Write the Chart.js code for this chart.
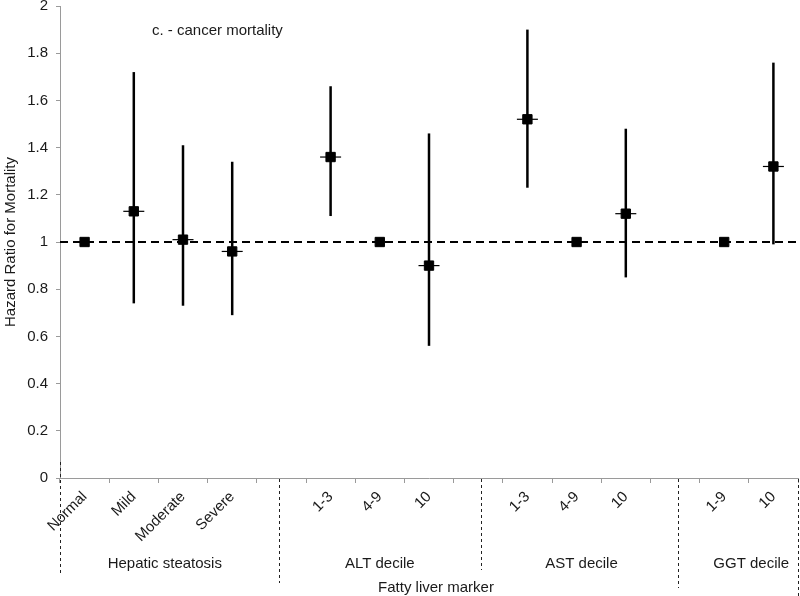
<!DOCTYPE html>
<html>
<head>
<meta charset="utf-8">
<script src="https://cdn.jsdelivr.net/npm/chart.js@4/dist/chart.umd.min.js"></script>
<style>
  html, body { margin: 0; padding: 0; background: #fff; }
  canvas { display: block; }
</style>
</head>
<body>
<canvas id="c" width="800" height="596"></canvas>
<script>
// ---- data ----
const categories   = ['Normal','Mild','Moderate','Severe','','1-3','4-9','10','','1-3','4-9','10','','1-9','10'];
const hazardRatio  = [1.00, 1.13, 1.01, 0.96, null, 1.36, 1.00, 0.90, null, 1.52, 1.00, 1.12, null, 1.00, 1.32];
const ciLower      = [null, 0.74, 0.73, 0.69, null, 1.11, null, 0.56, null, 1.23, null, 0.85, null, null, 0.99];
const ciUpper      = [null, 1.72, 1.41, 1.34, null, 1.66, null, 1.46, null, 1.90, null, 1.48, null, null, 1.76];
const groupNames   = ['Hepatic steatosis', 'ALT decile', 'AST decile', 'GGT decile'];
const referenceHR  = 1;
const yMin = 0, yMax = 2, yStep = 0.2;
const panelLabel   = 'c. - cancer mortality';
const xTitle       = 'Fatty liver marker';
const yTitle       = 'Hazard Ratio for Mortality';

// ---- layout (positions in category units / pixel offsets) ----
const groupLabelPos = [1.63, 6.0, 10.1, 13.55];
const dividerPos    = [-0.5, 3.95, 8.06, 12.06, 14.5];
const dividerTop    = [-16, 1, 1, 1, 1];
const dividerBottom = [97, 105, 92, 110, 118];

const FONT = '"Liberation Sans", Arial, Helvetica, sans-serif';
const TEXT = '#1a1a1a';
const AXIS = '#9a9a9a';

const overlay = {
  id: 'overlay',
  beforeDatasetsDraw(chart) {
    const ctx = chart.ctx, x = chart.scales.x, y = chart.scales.y, a = chart.chartArea;
    ctx.save();
    // reference line
    const yr = y.getPixelForValue(referenceHR);
    ctx.strokeStyle = '#000';
    ctx.lineWidth = 2;
    ctx.setLineDash([8, 5]);
    ctx.beginPath();
    ctx.moveTo(a.left, yr);
    ctx.lineTo(chart.width, yr);
    ctx.stroke();
    ctx.setLineDash([]);
    // error bars
    for (let i = 0; i < categories.length; i++) {
      if (ciLower[i] == null || ciUpper[i] == null) continue;
      const px = x.getPixelForValue(i);
      ctx.lineWidth = 2.5;
      ctx.beginPath();
      ctx.moveTo(px, y.getPixelForValue(ciLower[i]));
      ctx.lineTo(px, y.getPixelForValue(ciUpper[i]));
      ctx.stroke();
      const py = y.getPixelForValue(hazardRatio[i]);
      ctx.lineWidth = 1.2;
      ctx.beginPath();
      ctx.moveTo(px - 10.5, py);
      ctx.lineTo(px + 10.5, py);
      ctx.stroke();
    }
    ctx.restore();
  },
  afterDraw(chart) {
    const ctx = chart.ctx, x = chart.scales.x, a = chart.chartArea;
    ctx.save();
    // group dividers
    ctx.strokeStyle = '#222';
    ctx.lineWidth = 1;
    ctx.setLineDash([3, 3]);
    dividerPos.forEach((p, k) => {
      let px = Math.round(x.getPixelForValue(p)) + 0.5;
      if (px > chart.width - 1) px = chart.width - 1.5;
      ctx.beginPath();
      ctx.moveTo(px, a.bottom + dividerTop[k]);
      ctx.lineTo(px, a.bottom + dividerBottom[k]);
      ctx.stroke();
    });
    ctx.setLineDash([]);
    // group labels
    ctx.fillStyle = TEXT;
    ctx.font = '15px ' + FONT;
    ctx.textAlign = 'center';
    ctx.textBaseline = 'middle';
    groupNames.forEach((g, k) => {
      ctx.fillText(g, x.getPixelForValue(groupLabelPos[k]), a.bottom + 86);
    });
    // axis title
    ctx.fillText(xTitle, 436, a.bottom + 110);
    // panel label
    ctx.textAlign = 'left';
    ctx.fillText(panelLabel, 152, 31);
    ctx.restore();
  }
};

new Chart(document.getElementById('c'), {
  type: 'line',
  data: {
    labels: categories,
    datasets: [{
      data: hazardRatio,
      showLine: false,
      pointStyle: 'rect',
      pointRadius: 6.6,
      pointHoverRadius: 6.6,
      pointBackgroundColor: '#000',
      pointBorderColor: '#000',
      pointBorderWidth: 1
    }]
  },
  options: {
    responsive: false,
    animation: false,
    devicePixelRatio: 1,
    layout: { autoPadding: false, padding: { left: 0, right: 2, top: 0, bottom: 0 } },
    plugins: { legend: { display: false }, tooltip: { enabled: false } },
    scales: {
      x: {
        type: 'category',
        offset: true,
        grid: { offset: true, drawOnChartArea: false, drawTicks: true, tickLength: 5, color: AXIS },
        border: { color: AXIS, width: 1 },
        ticks: {
          autoSkip: false, minRotation: 45, maxRotation: 45, padding: 5,
          color: TEXT, font: { family: FONT, size: 15 }
        },
        afterFit(s) { s.height = 118; s.paddingLeft = 0; s.paddingRight = 0; }
      },
      y: {
        min: yMin, max: yMax,
        grid: { drawOnChartArea: false, drawTicks: true, tickLength: 4, color: AXIS },
        border: { color: AXIS, width: 1 },
        ticks: {
          stepSize: yStep, padding: 8, color: TEXT,
          font: { family: FONT, size: 15 },
          callback: v => String(Math.round(v * 10) / 10)
        },
        title: { display: true, text: yTitle, color: TEXT, font: { family: FONT, size: 15 }, padding: { top: 2, bottom: 0 } },
        afterFit(s) { s.width = 60; s.paddingTop = 6; s.paddingBottom = 0; }
      }
    }
  },
  plugins: [overlay]
});
</script>
</body>
</html>
